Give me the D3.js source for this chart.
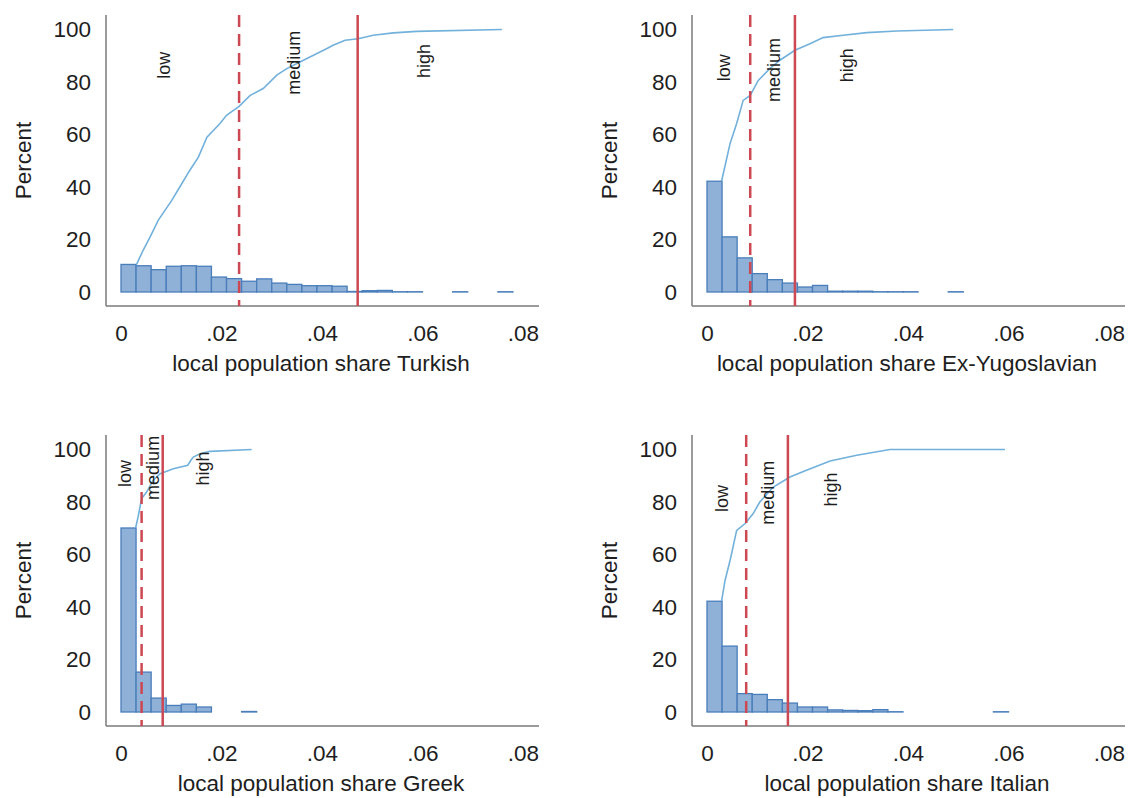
<!DOCTYPE html>
<html>
<head>
<meta charset="utf-8">
<script src="https://cdn.jsdelivr.net/npm/d3@7"></script>
<style>
    body { margin: 0; background: #fff; }
    svg { display: block; font-family: "Liberation Sans", Arial, sans-serif; }
</style>
</head>
<body>
<svg id="chart" width="1128" height="798"></svg>
<script>
// Data
const x_ticks = [0, 0.02, 0.04, 0.06, 0.08];
const x_tick_labels = ['0', '.02', '.04', '.06', '.08'];
const y_ticks = [0, 20, 40, 60, 80, 100];
const band_labels = ['low', 'medium', 'high'];
const group_names = ['Turkish', 'Ex-Yugoslavian', 'Greek', 'Italian'];
const bin_width = 0.003;

// percent of municipalities per bin (bins of .003 starting at 0)
const turkish_bins = [10.5, 10.0, 8.5, 9.8, 10.0, 9.8, 5.7, 5.1, 4.1, 5.0, 3.4, 2.9, 2.4, 2.4, 2.2, 0.2, 0.5, 0.6, 0.1, 0.1, 0, 0, 0.1, 0, 0, 0.1];
const yugo_bins = [42.2, 21.0, 13.0, 7.0, 4.7, 3.4, 1.9, 2.5, 0.3, 0.3, 0.3, 0.1, 0.1, 0.1, 0, 0, 0.1];
const greek_bins = [70.1, 15.2, 5.3, 2.5, 3.0, 1.9, 0, 0, 0.2];
const italian_bins = [42.2, 25.1, 7.0, 6.7, 4.7, 3.4, 1.9, 1.9, 0.8, 0.6, 0.5, 0.9, 0.1, 0, 0, 0, 0, 0, 0, 0.1];

// cumulative percent
const turkish_cdf_x = [0.0031, 0.0044, 0.0058, 0.0074, 0.0101, 0.0117, 0.0137, 0.0154, 0.0171, 0.0197, 0.0210, 0.0235, 0.0257, 0.0283, 0.0310, 0.0330, 0.0356, 0.0383, 0.0409, 0.0422, 0.0446, 0.0472, 0.0502, 0.0542, 0.0588, 0.0758];
const turkish_cdf_y = [10.5, 15.9, 21.0, 27.3, 34.9, 40.0, 46.4, 51.4, 59.0, 64.2, 67.3, 70.7, 74.9, 77.5, 82.6, 85.1, 87.6, 90.2, 92.7, 94.0, 95.9, 96.5, 97.8, 98.7, 99.3, 100];
const yugo_cdf_x = [0.0029, 0.0046, 0.0059, 0.0072, 0.0086, 0.0102, 0.0125, 0.0145, 0.0175, 0.0205, 0.0231, 0.0271, 0.0318, 0.0378, 0.0490];
const yugo_cdf_y = [42.2, 56.6, 64.2, 73.0, 74.9, 80.6, 85.1, 88.3, 92.1, 94.6, 96.9, 97.8, 98.8, 99.4, 100];
const greek_cdf_x = [0.0029, 0.0034, 0.0041, 0.0051, 0.0064, 0.0078, 0.0104, 0.0133, 0.0139, 0.0144, 0.0157, 0.0177, 0.0260];
const greek_cdf_y = [70.1, 74.3, 81.3, 83.8, 88.3, 90.8, 92.7, 94.0, 95.9, 97.1, 98.4, 99.3, 100];
const italian_cdf_x = [0.0029, 0.0036, 0.0046, 0.0059, 0.0076, 0.0092, 0.0105, 0.0132, 0.0165, 0.0198, 0.0245, 0.0298, 0.0364, 0.0593];
const italian_cdf_y = [42.2, 50.2, 57.8, 69.2, 71.8, 75.6, 80.0, 85.7, 89.5, 92.1, 95.6, 97.8, 100, 100];

// low/medium and medium/high cutoffs
const turkish_cutoffs = [0.0235, 0.0471];
const yugo_cutoffs = [0.0086, 0.0175];
const greek_cutoffs = [0.0041, 0.0083];
const italian_cutoffs = [0.0078, 0.0161];

// where the low / medium / high labels sit (x share, y percent)
const turkish_label_x = [0.0086, 0.0344, 0.0602];
const turkish_label_y = [86.4, 87.3, 88.0];
const yugo_label_x = [0.0033, 0.0133, 0.0278];
const yugo_label_y = [85.4, 84.6, 86.4];
const greek_label_x = [0.0008, 0.0063, 0.0163];
const greek_label_y = [90.9, 93.0, 92.8];
const italian_label_x = [0.0029, 0.0122, 0.0247];
const italian_label_y = [81.3, 83.5, 84.8];

const panels = [
    {bins: turkish_bins, cdf_x: turkish_cdf_x, cdf_y: turkish_cdf_y, cutoffs: turkish_cutoffs, label_x: turkish_label_x, label_y: turkish_label_y},
    {bins: yugo_bins, cdf_x: yugo_cdf_x, cdf_y: yugo_cdf_y, cutoffs: yugo_cutoffs, label_x: yugo_label_x, label_y: yugo_label_y},
    {bins: greek_bins, cdf_x: greek_cdf_x, cdf_y: greek_cdf_y, cutoffs: greek_cutoffs, label_x: greek_label_x, label_y: greek_label_y},
    {bins: italian_bins, cdf_x: italian_cdf_x, cdf_y: italian_cdf_y, cutoffs: italian_cutoffs, label_x: italian_label_x, label_y: italian_label_y}
].map((p, i) => Object.assign(p, {name: group_names[i]}));

// Render params
const panel_dx = 586, panel_dy = 420;
const axis_left = 106, axis_bottom = 306, axis_top = 15, axis_right = 539;
const bar_fill = '#8fb0d7', bar_stroke = '#4a7ebb';
const cdf_color = '#72b1db';
const cut_color = '#cc4853';
const text_color = '#1e1e1e';
const font_size = 22.5;

const svg = d3.select('#chart');

const x = d3.scaleLinear().domain([0, 0.08]).range([121, 523]);
const y = d3.scaleLinear().domain([0, 100]).range([292, 29.5]);

panels.forEach((p, i) => {
    const col = i % 2, row = Math.floor(i / 2);
    const g = svg.append('g')
        .attr('transform', `translate(${col * panel_dx}, ${row * panel_dy})`);

    // axis lines
    g.append('line')
        .attr('x1', axis_left).attr('x2', axis_left)
        .attr('y1', axis_top).attr('y2', axis_bottom)
        .attr('stroke', '#7a7a7a').attr('stroke-width', 1.5);
    g.append('line')
        .attr('x1', axis_left).attr('x2', axis_right)
        .attr('y1', axis_bottom).attr('y2', axis_bottom)
        .attr('stroke', '#7a7a7a').attr('stroke-width', 1.5);

    let y_axis = g.append('g')
        .attr('transform', `translate(${axis_left}, 0)`)
        .call(d3.axisLeft(y).tickValues(y_ticks).tickSize(0).tickPadding(15));
    y_axis.select('.domain').remove();
    y_axis.selectAll('.tick text')
        .attr('font-size', font_size).attr('font-family', null).attr('fill', text_color);

    let x_axis = g.append('g')
        .attr('transform', `translate(0, ${axis_bottom})`)
        .call(d3.axisBottom(x).tickValues(x_ticks).tickFormat((d, k) => x_tick_labels[k]).tickSize(0).tickPadding(19));
    x_axis.select('.domain').remove();
    x_axis.selectAll('.tick text')
        .attr('font-size', font_size).attr('font-family', null).attr('fill', text_color);

    g.append('text')
        .attr('x', 321).attr('y', 371)
        .attr('text-anchor', 'middle')
        .attr('font-size', font_size).attr('fill', text_color)
        .text('local population share ' + p.name);

    g.append('text')
        .attr('transform', `translate(23, ${(axis_top + axis_bottom) / 2}) rotate(-90)`)
        .attr('text-anchor', 'middle')
        .attr('dominant-baseline', 'central')
        .attr('font-size', font_size).attr('fill', text_color)
        .text('Percent');

    // histogram
    g.selectAll('rect.bar')
        .data(p.bins.map((v, k) => ({k: k, v: v})).filter(d => d.v > 0))
        .join('rect')
        .classed('bar', true)
        .attr('x', d => x(d.k * bin_width))
        .attr('width', x(bin_width) - x(0))
        .attr('y', d => y(d.v))
        .attr('height', d => y(0) - y(d.v))
        .attr('fill', bar_fill)
        .attr('stroke', bar_stroke)
        .attr('stroke-width', 1.3);

    // cumulative line
    g.append('path')
        .datum(p.cdf_x.map((v, k) => [v, p.cdf_y[k]]))
        .attr('d', d3.line().x(d => x(d[0])).y(d => y(d[1])))
        .attr('fill', 'none')
        .attr('stroke', cdf_color)
        .attr('stroke-width', 1.6);

    // cutoffs
    g.selectAll('line.cut')
        .data(p.cutoffs)
        .join('line')
        .classed('cut', true)
        .attr('x1', d => x(d)).attr('x2', d => x(d))
        .attr('y1', axis_top).attr('y2', axis_bottom)
        .attr('stroke', cut_color)
        .attr('stroke-width', 2.5)
        .attr('stroke-dasharray', (d, k) => k == 0 ? '12,7' : null);

    g.selectAll('text.band')
        .data(band_labels)
        .join('text')
        .classed('band', true)
        .attr('transform', (d, k) => `translate(${x(p.label_x[k])}, ${y(p.label_y[k])}) rotate(-90)`)
        .attr('text-anchor', 'middle')
        .attr('dominant-baseline', 'central')
        .attr('font-size', 18).attr('fill', text_color)
        .text(d => d);
});
</script>
</body>
</html>
